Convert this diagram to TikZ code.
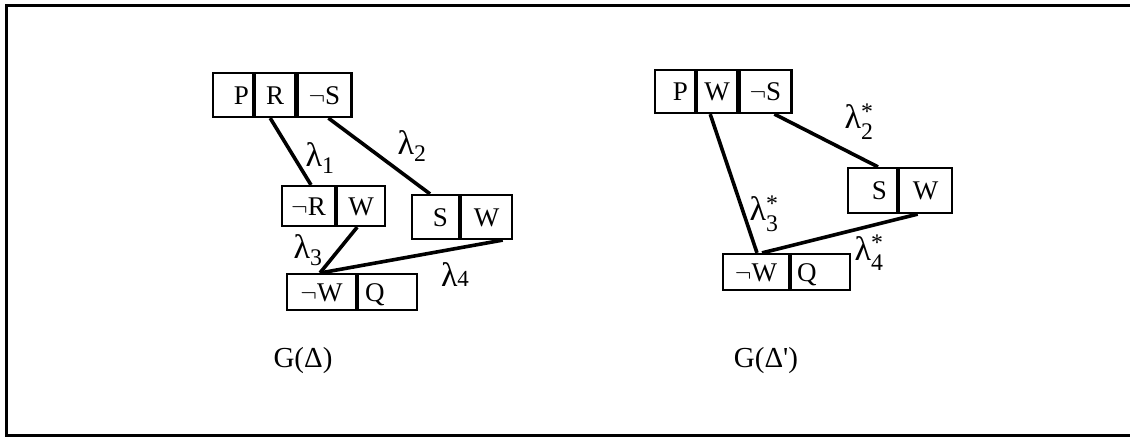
\documentclass[tikz,border=0pt]{standalone}
\usepackage{amsmath}
\usepackage{fontspec}
\setmainfont{Liberation Serif}
\usetikzlibrary{positioning}

\tikzset{
  cell/.style 2 args={draw, line width=2.2pt, minimum width=#1pt, minimum height=#2pt,
    inner sep=0pt, text height=18pt, text depth=0pt, font=\fontsize{27}{27}\selectfont},
  link/.style={line width=3.6pt},
  lab/.style={inner sep=0pt, font=\fontsize{34}{34}\selectfont},
  caption/.style={inner sep=0pt, font=\fontsize{29}{29}\selectfont},
}

\begin{document}
\begin{tikzpicture}[x=1pt,y=-1pt]
  \useasboundingbox (0,0) rectangle (1130,437);
  % open frame, right side runs off the page
  \draw[line width=3pt] (1130,5) -- (6,5) -- (6,435) -- (1130,435);

  % left graph G(Delta)
  \node[cell={40}{44}, text width=32pt, align=right] (p1) at (233,95) {P};
  \node[cell={40}{44}, right=0pt of p1] (r1) {R};
  \node[cell={54}{44}, right=0pt of r1] (ns1) {$\neg$S};

  \node[cell={53}{40}] (nr1) at (308.5,206) {$\neg$R};
  \node[cell={48}{40}, right=0pt of nr1] (w1) {W};

  \node[cell={47}{44}, text width=25pt, align=right] (s1) at (435.5,217) {S};
  \node[cell={51}{44}, right=0pt of s1] (w2) {W};

  \node[cell={69}{36}] (nw1) at (321.5,292) {$\neg$W};
  \node[cell={59}{36}, text width=45pt, align=left, right=0pt of nw1] (q1) {Q};

  \draw[link] ([xshift=-5pt]r1.south) -- ([xshift=2.5pt]nr1.north);
  \draw[link] ([xshift=4pt]ns1.south) -- ([xshift=-5.5pt]s1.north);
  \draw[link] ([xshift=-4pt]w1.south) -- ([xshift=-1.5pt]nw1.north);
  \draw[link] ([xshift=16pt]w2.south) -- ([xshift=-1pt]nw1.north);

  \node[lab] (l1) at (320,158) {λ$_{\textrm{1}}$};
  \node[lab] (l2) at (412,146) {λ$_{\textrm{2}}$};
  \node[lab] (l3) at (308,250) {λ$_{\textrm{3}}$};
  \node[lab] (l4) at (455,275) {λ{\fontsize{23}{23}\selectfont 4}};

  \node[caption] (g1) at (303,361) {G(Δ)};

  % right graph G(Delta')
  \node[cell={40}{43}, text width=26pt, align=right] (p2) at (675,91.5) {P};
  \node[cell={40}{43}, right=0pt of p2] (w3) {W};
  \node[cell={52}{43}, right=0pt of w3] (ns2) {$\neg$S};

  \node[cell={49}{45}, text width=29pt, align=right] (s2) at (872.5,190.5) {S};
  \node[cell={53}{45}, right=0pt of s2] (w4) {W};

  \node[cell={66}{36}] (nw2) at (756,272) {$\neg$W};
  \node[cell={59}{36}, text width=47pt, align=left, right=0pt of nw2] (q2) {Q};

  \draw[link] ([xshift=9pt]ns2.south) -- ([xshift=5.5pt]s2.north);
  \draw[link] ([xshift=-7pt]w3.south) -- ([xshift=1pt]nw2.north);
  \draw[link] ([xshift=-8pt]w4.south) -- ([xshift=6pt]nw2.north);

  \node[lab] (l2s) at (859,122) {λ$^{\textrm{*}}_{\textrm{2}}$};
  \node[lab] (l3s) at (764,214) {λ$^{\textrm{*}}_{\textrm{3}}$};
  \node[lab] (l4s) at (869,253) {λ$^{\textrm{*}}_{\textrm{4}}$};

  \node[caption] (g2) at (766,361) {G(Δ\textquotesingle)};
\end{tikzpicture}
\end{document}
